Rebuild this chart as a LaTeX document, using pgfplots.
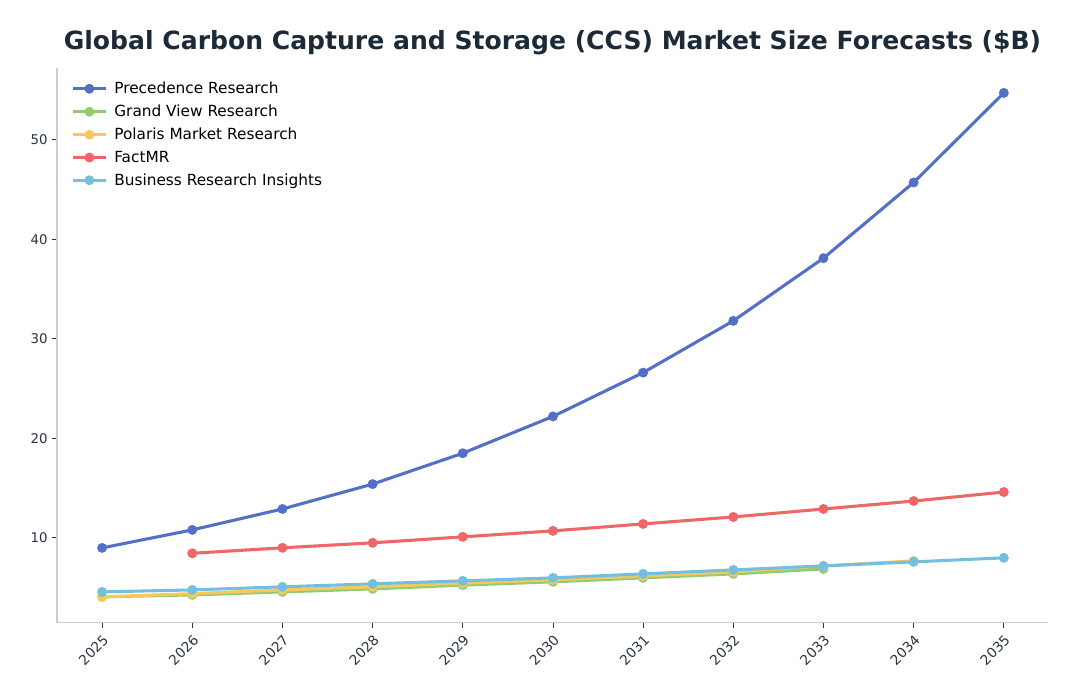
\documentclass[border=0pt]{standalone}
\usepackage{fontspec}
\setmainfont{DejaVu Sans}
\usepackage{pgfplots}
\pgfplotsset{compat=1.18}

\definecolor{cPrec}{HTML}{5470C6}
\definecolor{cGrand}{HTML}{91CC75}
\definecolor{cPolaris}{HTML}{FAC858}
\definecolor{cFact}{HTML}{EE6666}
\definecolor{cBRI}{HTML}{73C0DE}
\definecolor{titlecol}{HTML}{1B2A36}
\definecolor{tickcol}{HTML}{2A3440}
\definecolor{spine}{HTML}{CCCCCC}

\begin{document}
\begin{tikzpicture}
    \begin{axis}
    [
        name=ax,
        scale only axis,
        width=743pt,
        height=416pt,
        xmin=2024.5, xmax=2035.49,
        ymin=1.46, ymax=57.2,
        axis x line*=bottom,
        axis y line*=left,
        axis line style={spine, line width=0.8pt, -},
        xtick={2025,...,2035},
        ytick={10,20,30,40,50},
        tick align=outside,
        major tick length=3.5pt,
        tick style={tickcol, line width=0.6pt},
        xticklabel style={rotate=45, anchor=north east, font=\fontsize{10.3}{12}\selectfont, text=tickcol},
        yticklabel style={font=\fontsize{10}{12}\selectfont, text=tickcol},
        /pgf/number format/1000 sep={},
        /pgf/number format/assume math mode=true,
        legend style={at={(0.01,0.985)}, anchor=north west, draw=none, fill=none,
            font=\fontsize{11.5}{13.5}\selectfont, row sep=3pt,
            nodes={inner xsep=5pt}},
        legend cell align=left,
        legend image code/.code={
            \draw[mark repeat=2, mark phase=2] plot coordinates {(0cm,0cm) (0.44cm,0cm) (0.88cm,0cm)};
        },
        every axis plot/.append style={line width=2.3pt, mark=*, mark size=2.5pt},
    ]
    \addplot[cPrec, mark options={fill=cPrec}]
        coordinates {(2025, 8.99) (2026, 10.8) (2027, 12.9) (2028, 15.4) (2029, 18.5)
            (2030, 22.2) (2031, 26.6) (2032, 31.8) (2033, 38.1) (2034, 45.7) (2035, 54.7)};
    \addlegendentry{Precedence Research}

    \addplot[cGrand, mark options={fill=cGrand}]
        coordinates {(2025, 4.07) (2026, 4.27) (2027, 4.57) (2028, 4.87) (2029, 5.25)
            (2030, 5.58) (2031, 5.98) (2032, 6.38) (2033, 6.88)};
    \addlegendentry{Grand View Research}

    \addplot[cPolaris, mark options={fill=cPolaris}]
        coordinates {(2025, 4.07) (2026, 4.4) (2027, 4.77) (2028, 5.08) (2029, 5.45)
            (2030, 5.78) (2031, 6.18) (2032, 6.58) (2033, 7.18) (2034, 7.69)};
    \addlegendentry{Polaris Market Research}

    \addplot[cFact, mark options={fill=cFact}]
        coordinates {(2026, 8.45) (2027, 9.0) (2028, 9.5) (2029, 10.1) (2030, 10.7)
            (2031, 11.4) (2032, 12.1) (2033, 12.9) (2034, 13.7) (2035, 14.6)};
    \addlegendentry{FactMR}

    \addplot[cBRI, mark options={fill=cBRI}]
        coordinates {(2025, 4.57) (2026, 4.77) (2027, 5.08) (2028, 5.38) (2029, 5.68)
            (2030, 5.98) (2031, 6.38) (2032, 6.78) (2033, 7.18) (2034, 7.59) (2035, 7.99)};
    \addlegendentry{Business Research Insights}
    \end{axis}
    \node[anchor=base, font=\fontsize{18.8}{22}\selectfont\bfseries, text=titlecol]
        at ([yshift=14pt]ax.north) {Global Carbon Capture and Storage (CCS) Market Size Forecasts (\$B)};
    \pgfresetboundingbox
    \path[use as bounding box] ([xshift=-42.75pt,yshift=-55.5pt]ax.south west)
        rectangle ([xshift=23.25pt,yshift=51pt]ax.north east);
\end{tikzpicture}
\end{document}
